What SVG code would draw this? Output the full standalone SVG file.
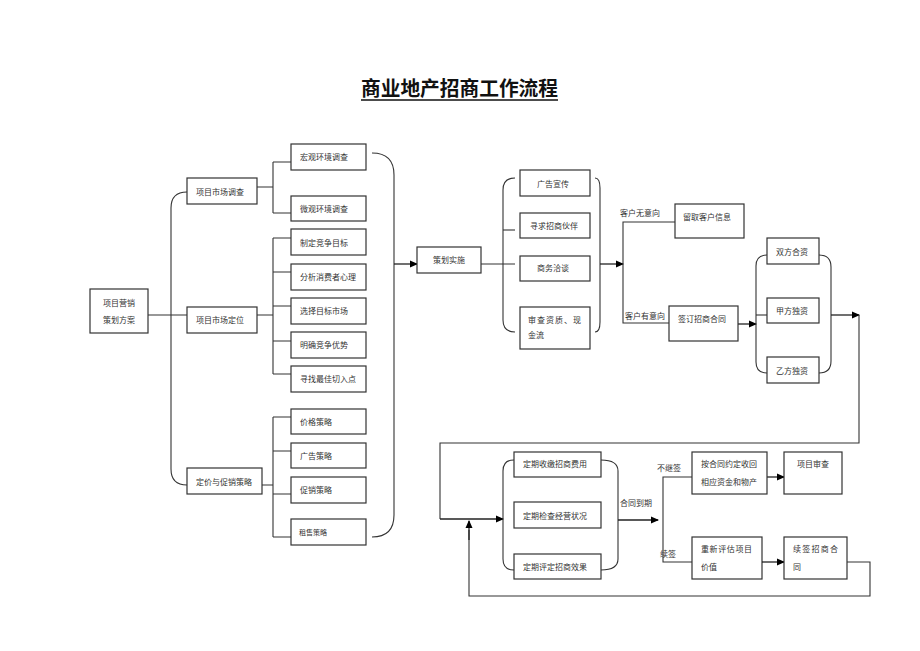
<svg xmlns="http://www.w3.org/2000/svg" width="920" height="651" viewBox="0 0 920 651">
<defs>
<marker id="ah" markerWidth="8" markerHeight="8" refX="7" refY="4" orient="auto" markerUnits="userSpaceOnUse">
<path d="M0,0.5 L8,4 L0,7.5 Z" fill="#000"/>
</marker>
<style>
.b{fill:#fff;stroke:#333;stroke-width:1.2}
.t{font-family:"Noto Sans CJK SC","Noto Sans CJK TC",sans-serif;font-size:8px;fill:#333}
.s{font-size:7px}
.l{fill:none;stroke:#333;stroke-width:1.1}
.a{fill:none;stroke:#222;stroke-width:1.3;marker-end:url(#ah)}
.title{font-family:"Noto Sans CJK SC",sans-serif;font-size:20px;font-weight:bold;fill:#111}
</style>
</defs>
<rect width="920" height="651" fill="#fff"/>
<g id="title">
<text class="title" x="361" y="96" textLength="197" lengthAdjust="spacingAndGlyphs">商业地产招商工作流程</text>
<line x1="361" y1="100" x2="558" y2="100" stroke="#111" stroke-width="1.5"/>
</g>
<g id="connectors">
<!-- left tree -->
<line class="l" x1="148" y1="315" x2="187" y2="315"/>
<path class="l" d="M187,192 Q171,192 171,208 L171,469 Q171,485 187,485"/>
<path class="l" d="M257,187 H273 M273,162 V213 M273,162 H291 M273,213 H291"/>
<path class="l" d="M257,315 H273 M273,238 V374 M273,238 H291 M273,272 H291 M273,306 H291 M273,341 H291 M273,374 H291"/>
<path class="l" d="M262,485 H273 M273,417 V537 M273,417 H291 M273,451 H291 M273,494 H291 M273,537 H291"/>
<path class="l" d="M372,153 Q394,153 394,175 L394,515 Q394,537 372,537"/>
<line class="a" x1="394" y1="264" x2="417" y2="264"/>
<!-- 策划实施 -->
<line class="l" x1="481" y1="264" x2="515" y2="264"/>
<path class="l" d="M515,178 Q503,178 503,190 L503,320 Q503,332 515,332"/>
<line class="l" x1="503" y1="230" x2="515" y2="230"/>
<path class="l" d="M595,178 Q600,178 600,188 L600,322 Q600,332 595,332"/>
<line class="a" x1="600" y1="264" x2="623" y2="264"/>
<path class="l" d="M675,222 H623 V323 H669"/>
<line class="a" x1="738" y1="324" x2="756" y2="324"/>
<path class="l" d="M767,255 Q756,255 756,266 L756,362 Q756,373 767,373"/>
<line class="l" x1="756" y1="315" x2="767" y2="315"/>
<path class="l" d="M819,255 Q831,255 831,267 L831,361 Q831,373 819,373"/>
<line class="a" x1="831" y1="315" x2="859" y2="315"/>
<path class="l" d="M859,315 V443 H440 V519"/>
<line class="a" x1="440" y1="519" x2="503" y2="519"/>
<!-- bottom section -->
<path class="l" d="M514,460 Q503,460 503,471 L503,559 Q503,570 514,570"/>
<path class="l" d="M601,460 Q618,460 618,471 L618,559 Q618,570 601,570"/>
<line class="a" x1="618" y1="520" x2="658" y2="520"/>
<path class="l" d="M692,477 H663 V562 H692"/>
<line class="a" x1="767" y1="477" x2="784" y2="477"/>
<line class="a" x1="762" y1="562" x2="784" y2="562"/>
<path class="l" d="M847,562 H870 V596 H469 V530"/>
<line class="a" x1="469" y1="540" x2="469" y2="521"/>
</g>
<g id="n_root"><rect class="b" x="90" y="289" width="58" height="44"/><text class="t" x="103" y="306">项目营销</text><text class="t" x="103" y="323">策划方案</text></g>
<g id="n_survey"><rect class="b" x="187" y="178" width="70" height="26"/><text class="t" x="196" y="195">项目市场调查</text></g>
<g id="n_position"><rect class="b" x="187" y="307" width="70" height="26"/><text class="t" x="196" y="323">项目市场定位</text></g>
<g id="n_pricing"><rect class="b" x="187" y="468" width="75" height="26"/><text class="t" x="196" y="485">定价与促销策略</text></g>
<g id="n_macro"><rect class="b" x="291" y="144" width="75" height="26"/><text class="t" x="300" y="160">宏观环境调查</text></g>
<g id="n_micro"><rect class="b" x="291" y="196" width="75" height="25"/><text class="t" x="300" y="212">微观环境调查</text></g>
<g id="n_goal"><rect class="b" x="291" y="229" width="75" height="26"/><text class="t" x="300" y="246">制定竞争目标</text></g>
<g id="n_consumer"><rect class="b" x="291" y="264" width="75" height="26"/><text class="t" x="300" y="280">分析消费者心理</text></g>
<g id="n_target"><rect class="b" x="291" y="298" width="75" height="26"/><text class="t" x="300" y="314">选择目标市场</text></g>
<g id="n_adv"><rect class="b" x="291" y="332" width="75" height="26"/><text class="t" x="300" y="348">明确竞争优势</text></g>
<g id="n_entry"><rect class="b" x="291" y="366" width="75" height="26"/><text class="t" x="300" y="382">寻找最佳切入点</text></g>
<g id="n_price"><rect class="b" x="291" y="409" width="75" height="25"/><text class="t" x="300" y="425">价格策略</text></g>
<g id="n_ad"><rect class="b" x="291" y="443" width="75" height="25"/><text class="t" x="300" y="459">广告策略</text></g>
<g id="n_promo"><rect class="b" x="291" y="477" width="75" height="26"/><text class="t" x="300" y="493">促销策略</text></g>
<g id="n_lease"><rect class="b" x="291" y="519" width="75" height="26"/><text class="t s" x="299" y="535">租售策略</text></g>
<g id="n_impl"><rect class="b" x="417" y="247" width="64" height="26"/><text class="t" x="433" y="263">策划实施</text></g>
<g id="n_adpub"><rect class="b" x="520" y="170" width="70" height="26"/><text class="t" x="537" y="187">广告宣传</text></g>
<g id="n_partner"><rect class="b" x="520" y="213" width="70" height="25"/><text class="t" x="530" y="229">寻求招商伙伴</text></g>
<g id="n_nego"><rect class="b" x="520" y="256" width="70" height="25"/><text class="t" x="537" y="271">商务洽谈</text></g>
<g id="n_review"><rect class="b" x="520" y="307" width="70" height="42"/><text class="t" x="528" y="323" textLength="53" lengthAdjust="spacing">审查资质、现</text><text class="t" x="528" y="338">金流</text></g>
<g id="n_keep"><rect class="b" x="675" y="204" width="69" height="34"/><text class="t" x="683" y="220">留取客户信息</text></g>
<g id="n_sign"><rect class="b" x="669" y="306" width="69" height="35"/><text class="t" x="678" y="322">签订招商合同</text></g>
<g id="n_joint"><rect class="b" x="767" y="238" width="52" height="26"/><text class="t" x="776" y="255">双方合资</text></g>
<g id="n_a"><rect class="b" x="767" y="298" width="52" height="25"/><text class="t" x="776" y="314">甲方独资</text></g>
<g id="n_b"><rect class="b" x="767" y="357" width="52" height="26"/><text class="t" x="776" y="374">乙方独资</text></g>
<g id="n_fee"><rect class="b" x="514" y="452" width="87" height="25"/><text class="t" x="523" y="467">定期收缴招商费用</text></g>
<g id="n_check"><rect class="b" x="514" y="502" width="87" height="26"/><text class="t" x="523" y="519">定期检查经营状况</text></g>
<g id="n_eval"><rect class="b" x="514" y="554" width="87" height="25"/><text class="t" x="523" y="570">定期评定招商效果</text></g>
<g id="n_recover"><rect class="b" x="692" y="452" width="75" height="42"/><text class="t" x="701" y="467">按合同约定收回</text><text class="t" x="701" y="485">相应资金和物产</text></g>
<g id="n_audit"><rect class="b" x="784" y="452" width="58" height="42"/><text class="t" x="797" y="467">项目审查</text></g>
<g id="n_reeval"><rect class="b" x="692" y="537" width="70" height="42"/><text class="t" x="701" y="552" textLength="51" lengthAdjust="spacing">重新评估项目</text><text class="t" x="701" y="570">价值</text></g>
<g id="n_renew"><rect class="b" x="784" y="537" width="63" height="42"/><text class="t" x="793" y="552" textLength="45" lengthAdjust="spacing">续签招商合</text><text class="t" x="793" y="570">同</text></g>
<g id="labels">
<text class="t" x="620" y="216">客户无意向</text>
<text class="t" x="625" y="319">客户有意向</text>
<text class="t" x="620" y="506">合同到期</text>
<text class="t" x="657" y="471">不继签</text>
<text class="t" x="660" y="557">续签</text>
</g>
</svg>
